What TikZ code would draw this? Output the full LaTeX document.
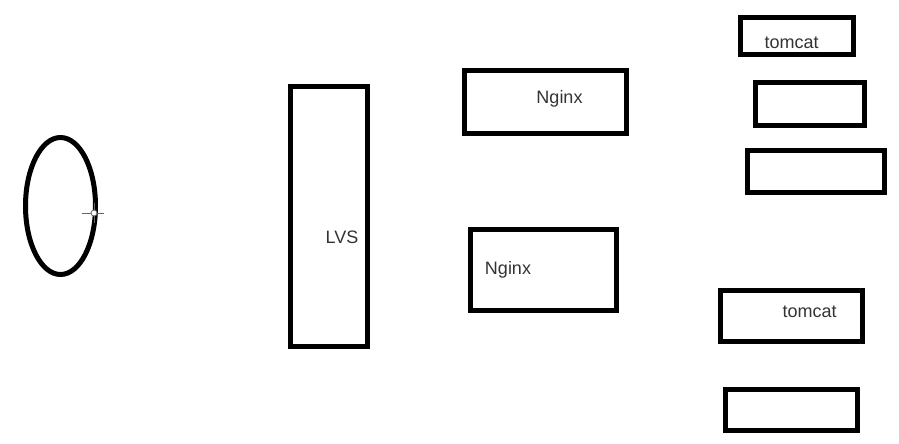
\documentclass[tikz,border=0pt]{standalone}
\usepackage{fontspec}
\setmainfont{Liberation Sans}
\usetikzlibrary{shapes.geometric}

\begin{document}
\begin{tikzpicture}[
    x=0.75pt, y=-0.75pt,
    box/.style  = {draw, line width=3.75pt, inner sep=0pt, outer sep=0pt},
    user/.style = {draw, ellipse, line width=3.75pt, inner sep=0pt,
                   minimum width=52.5pt, minimum height=102.75pt},
    lbl/.style  = {font=\fontsize{13.5}{16}\selectfont, text=black!80,
                   inner sep=0pt},
  ]
    \useasboundingbox (0,0) rectangle (899,443);

    % client
    \node[user] (client) at (60.5,206) {};
    \draw[black!60, line width=0.6pt] (82,213) -- (104,213)
                                      (94,203) -- (94,223);
    \node[draw=black!60, fill=white, circle, line width=0.6pt,
          inner sep=0pt, minimum size=4.5pt] (cursor) at (94,213) {};

    % load balancer
    \node[box, minimum width=57.75pt, minimum height=195pt] (lvs) at (329,216.5) {};
    \node[lbl] (lvslbl) at (342,237) {LVS};

    % nginx
    \node[box, minimum width=121.5pt, minimum height=47.25pt] (ngxa) at (545.5,102) {};
    \node[box, minimum width=109.5pt, minimum height=60.75pt] (ngxb) at (543.5,270) {};
    \node[lbl] (ngxalbl) at (559.5,99) {Nginx};
    \node[lbl] (ngxblbl) at (508,270) {Nginx};

    % tomcat
    \node[box, minimum width=84.75pt,  minimum height=27.75pt] (tca) at (797,36) {};
    \node[box, minimum width=81.75pt,  minimum height=32.25pt] (tcb) at (810,104) {};
    \node[box, minimum width=102.75pt, minimum height=31.5pt]  (tcc) at (816,171.5) {};
    \node[box, minimum width=106.5pt,  minimum height=38.25pt] (tcd) at (791.5,316) {};
    \node[box, minimum width=99pt,     minimum height=30.75pt] (tce) at (791.5,410) {};
    \node[lbl] (tcalbl) at (791.5,43) {tomcat};
    \node[lbl] (tcdlbl) at (809.5,312) {tomcat};
  \end{tikzpicture}
\end{document}
